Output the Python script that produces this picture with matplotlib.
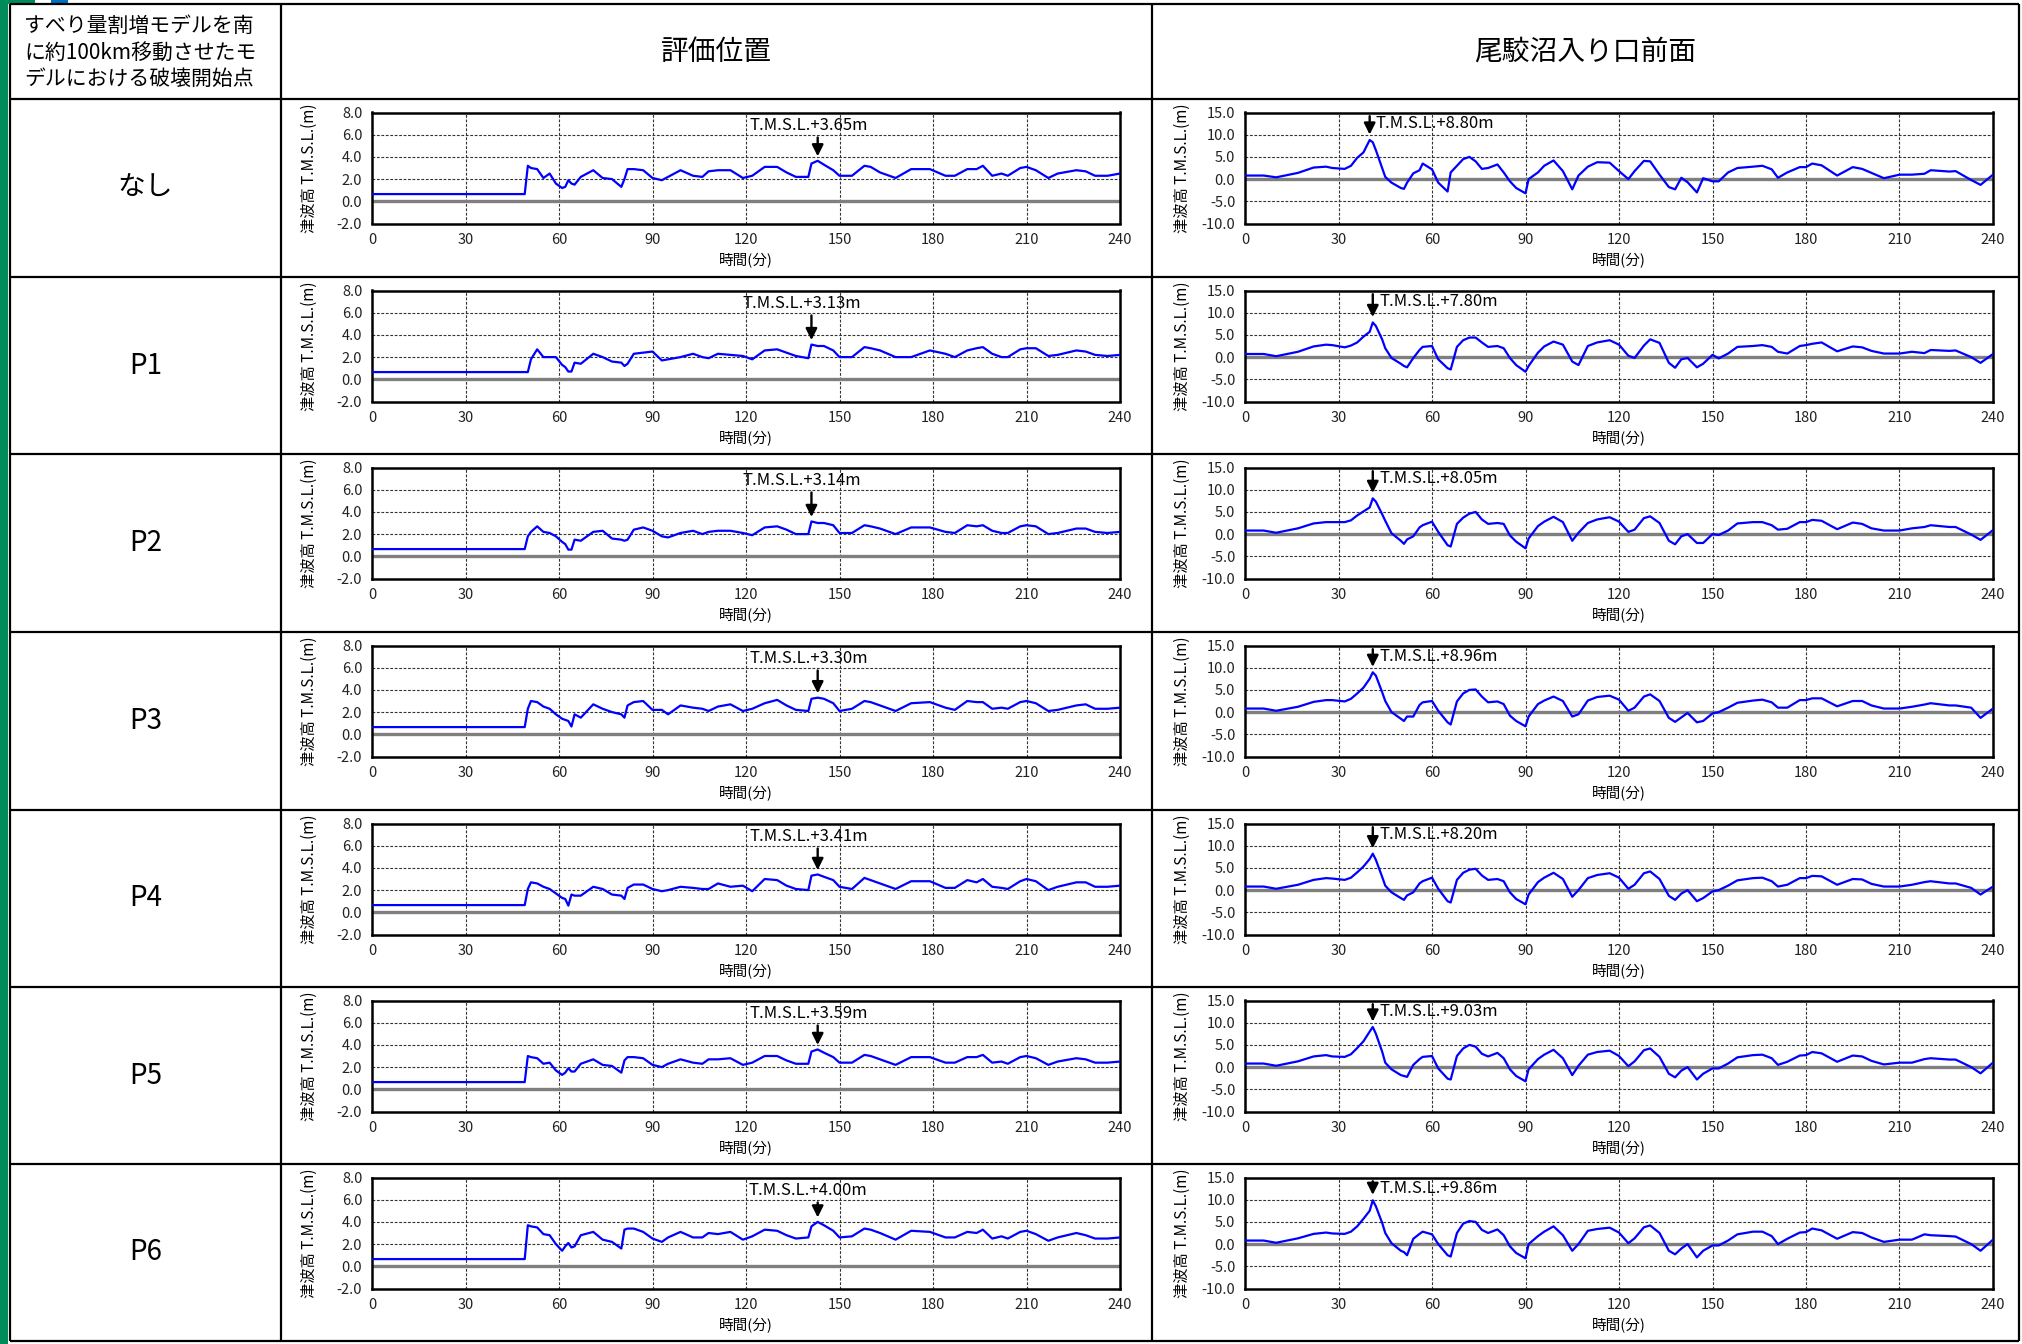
import numpy as np
import matplotlib
matplotlib.use('Agg')
from matplotlib import pyplot as plt
from matplotlib.patches import Rectangle

plt.rcParams['font.family'] = ['Noto Sans CJK JP', 'DejaVu Sans']

# 行ラベル / 列見出し
row_names = ['なし', 'P1', 'P2', 'P3', 'P4', 'P5', 'P6']
col_titles = ['評価位置', '尾駮沼入り口前面']
corner_lines = ['すべり量割増モデルを南', 'に約100km移動させたモ', 'デルにおける破壊開始点']

# 評価位置 (分, m)
t_eval = [0, 49, 50, 51, 53, 55, 57, 59, 61, 62,
          63, 64, 65, 67, 71, 74, 77, 80, 81, 82,
          84, 87, 90, 93, 95, 99, 103, 106, 108, 111,
          115, 119, 122, 126, 130, 133, 136, 140, 141, 143,
          145, 148, 150, 154, 158, 160, 163, 168, 173, 179,
          184, 187, 191, 194, 196, 199, 202, 204, 208, 210,
          213, 217, 220, 226, 229, 232, 236, 240]
eval_nashi = [0.65, 0.65, 3.2, 3.0, 2.9, 2.1, 2.5, 1.6, 1.2, 1.3,
              1.9, 1.6, 1.5, 2.2, 2.8, 2.1, 2.0, 1.3, 2.0, 2.9,
              2.9, 2.8, 2.1, 1.9, 2.2, 2.8, 2.3, 2.2, 2.7, 2.8,
              2.8, 2.1, 2.3, 3.1, 3.1, 2.6, 2.2, 2.2, 3.4, 3.65,
              3.3, 2.8, 2.3, 2.3, 3.2, 3.1, 2.6, 2.1, 2.9, 2.9,
              2.3, 2.3, 2.9, 2.9, 3.2, 2.3, 2.5, 2.3, 3.0, 3.1,
              2.8, 2.1, 2.5, 2.8, 2.7, 2.3, 2.3, 2.5]
eval_p1 = [0.65, 0.65, 0.65, 1.8, 2.7, 2.0, 2.0, 2.0, 1.3, 1.1,
           0.7, 0.7, 1.5, 1.4, 2.3, 2.0, 1.6, 1.5, 1.2, 1.4,
           2.3, 2.4, 2.5, 1.7, 1.8, 2.0, 2.3, 2.0, 1.9, 2.3,
           2.2, 2.1, 1.8, 2.6, 2.7, 2.4, 2.1, 1.9, 3.13, 3.0,
           3.0, 2.6, 2.0, 2.0, 2.9, 2.8, 2.6, 2.0, 2.0, 2.6,
           2.3, 2.0, 2.6, 2.8, 2.9, 2.3, 2.0, 2.0, 2.7, 2.8,
           2.8, 2.1, 2.2, 2.6, 2.5, 2.2, 2.1, 2.2]
eval_p2 = [0.65, 0.65, 1.8, 2.2, 2.7, 2.2, 2.1, 1.8, 1.3, 1.1,
           0.6, 0.6, 1.5, 1.4, 2.2, 2.3, 1.6, 1.5, 1.4, 1.5,
           2.4, 2.6, 2.3, 1.8, 1.7, 2.1, 2.3, 2.0, 2.2, 2.3,
           2.3, 2.1, 1.9, 2.6, 2.7, 2.4, 2.0, 2.0, 3.14, 3.0,
           3.0, 2.8, 2.1, 2.1, 2.8, 2.7, 2.5, 2.0, 2.6, 2.6,
           2.2, 2.1, 2.8, 2.7, 2.8, 2.3, 2.1, 2.1, 2.7, 2.8,
           2.7, 2.0, 2.1, 2.5, 2.5, 2.2, 2.1, 2.2]
eval_p3 = [0.65, 0.65, 2.3, 3.0, 2.9, 2.5, 2.3, 1.8, 1.4, 1.3,
           1.2, 0.7, 1.8, 1.5, 2.7, 2.3, 2.0, 1.8, 1.5, 2.6,
           2.9, 3.0, 2.2, 2.2, 1.8, 2.6, 2.4, 2.3, 2.1, 2.5,
           2.7, 2.1, 2.3, 2.8, 3.1, 2.6, 2.2, 2.1, 3.2, 3.3,
           3.2, 2.8, 2.1, 2.3, 3.0, 2.9, 2.6, 2.1, 2.8, 2.9,
           2.4, 2.2, 3.0, 2.9, 2.9, 2.3, 2.4, 2.3, 2.9, 3.0,
           2.8, 2.1, 2.2, 2.6, 2.7, 2.3, 2.3, 2.4]
eval_p4 = [0.65, 0.65, 2.1, 2.7, 2.6, 2.3, 2.1, 1.7, 1.3, 1.2,
           0.6, 1.6, 1.5, 1.5, 2.3, 2.1, 1.6, 1.5, 1.2, 2.2,
           2.5, 2.5, 2.1, 1.9, 2.0, 2.3, 2.2, 2.1, 2.1, 2.6,
           2.3, 2.4, 1.9, 3.0, 2.9, 2.4, 2.1, 2.0, 3.3, 3.41,
           3.2, 2.9, 2.3, 2.1, 3.1, 2.9, 2.6, 2.1, 2.8, 2.8,
           2.2, 2.2, 2.9, 2.7, 3.0, 2.3, 2.2, 2.1, 2.8, 3.0,
           2.8, 2.0, 2.3, 2.7, 2.7, 2.3, 2.3, 2.4]
eval_p5 = [0.65, 0.65, 3.0, 2.9, 2.8, 2.3, 2.4, 1.7, 1.3, 1.5,
           1.9, 1.6, 1.6, 2.3, 2.7, 2.2, 2.1, 1.5, 2.6, 2.9,
           2.9, 2.8, 2.2, 2.0, 2.3, 2.7, 2.4, 2.3, 2.7, 2.7,
           2.8, 2.2, 2.4, 3.0, 3.0, 2.6, 2.3, 2.3, 3.4, 3.59,
           3.3, 2.9, 2.4, 2.4, 3.1, 3.0, 2.7, 2.2, 2.9, 2.9,
           2.4, 2.4, 2.9, 2.9, 3.1, 2.4, 2.5, 2.3, 2.9, 3.0,
           2.8, 2.2, 2.5, 2.8, 2.7, 2.4, 2.4, 2.5]
eval_p6 = [0.65, 0.65, 3.7, 3.6, 3.5, 2.9, 2.8, 2.0, 1.4, 1.8,
           2.1, 1.7, 1.8, 2.8, 3.1, 2.4, 2.2, 1.6, 3.3, 3.4,
           3.4, 3.1, 2.5, 2.2, 2.6, 3.1, 2.6, 2.6, 3.0, 2.9,
           3.1, 2.4, 2.7, 3.3, 3.2, 2.8, 2.5, 2.6, 3.6, 4.0,
           3.7, 3.2, 2.6, 2.7, 3.4, 3.3, 3.0, 2.4, 3.2, 3.1,
           2.6, 2.6, 3.1, 3.0, 3.3, 2.5, 2.7, 2.5, 3.1, 3.2,
           2.9, 2.3, 2.6, 3.0, 2.8, 2.5, 2.5, 2.6]
eval_peak_t = [143, 141, 141, 143, 143, 143, 143]
eval_peak_v = [3.65, 3.13, 3.14, 3.30, 3.41, 3.59, 4.00]

# 尾駮沼入り口前面 (分, m)
t_front = [0, 6, 10, 17, 22, 26, 28, 32, 34, 36,
           38, 40, 41, 42, 44, 45, 47, 50, 51, 52,
           54, 56, 57, 60, 62, 65, 66, 68, 70, 72,
           74, 76, 78, 81, 83, 85, 87, 90, 91, 94,
           96, 99, 102, 105, 107, 110, 113, 117, 120, 123,
           125, 128, 130, 133, 136, 138, 140, 142, 145, 147,
           150, 152, 155, 158, 163, 166, 169, 171, 174, 178,
           180, 182, 185, 190, 195, 198, 201, 205, 210, 214,
           218, 220, 226, 228, 233, 236, 240]
front_nashi = [0.8, 0.8, 0.4, 1.4, 2.6, 2.8, 2.5, 2.3, 3.0, 4.8,
               6.0, 8.8, 8.3, 6.5, 2.5, 0.5, -0.8, -2.0, -2.2, -0.8,
               1.3, 2.0, 3.5, 2.2, -0.8, -2.8, 1.5, 3.0, 4.5, 5.0,
               4.0, 2.3, 2.5, 3.3, 1.5, -0.5, -2.0, -3.2, 0.0, 1.5,
               3.0, 4.2, 1.8, -2.3, 0.8, 2.8, 3.8, 3.7, 1.8, 0.0,
               1.8, 4.1, 4.0, 1.0, -1.8, -2.3, 0.3, -0.7, -3.0, 0.2,
               -0.5, -0.5, 1.5, 2.5, 2.8, 3.0, 2.2, 0.3, 1.5, 2.7,
               2.7, 3.5, 3.1, 0.8, 2.7, 2.3, 1.4, 0.2, 1.0, 1.0,
               1.2, 2.0, 1.7, 1.8, -0.2, -1.3, 1.0]
front_p1 = [0.7, 0.7, 0.2, 1.2, 2.4, 2.8, 2.7, 2.2, 2.6, 3.3,
            4.6, 5.7, 7.8, 7.0, 4.0, 2.0, -0.2, -1.5, -2.0, -2.3,
            -0.2, 1.6, 2.3, 2.5, -0.5, -2.5, -2.8, 2.3, 3.8, 4.4,
            4.4, 3.3, 2.3, 2.5, 2.0, -0.2, -1.8, -3.3, -2.0, 1.0,
            2.4, 3.5, 2.8, -1.0, -1.8, 2.5, 3.3, 3.8, 2.8, 0.3,
            -0.2, 2.6, 4.0, 3.2, -1.3, -2.4, -0.5, -0.2, -2.3, -1.5,
            0.5, -0.3, 0.8, 2.3, 2.5, 2.7, 2.3, 1.2, 0.8, 2.5,
            2.7, 3.0, 3.3, 1.3, 2.4, 2.2, 1.4, 0.8, 0.8, 1.2,
            0.9, 1.6, 1.4, 1.5, 0.0, -1.3, 0.7]
front_p2 = [0.8, 0.8, 0.3, 1.3, 2.4, 2.7, 2.7, 2.7, 3.1, 4.2,
            5.1, 6.0, 8.05, 7.3, 4.5, 3.0, 0.2, -1.5, -2.2, -1.2,
            -0.5, 1.5, 2.0, 2.8, 0.5, -2.5, -2.8, 2.3, 3.7, 4.6,
            5.0, 3.3, 2.3, 2.5, 2.3, -0.3, -1.7, -3.2, -1.0, 1.8,
            2.8, 3.9, 2.7, -1.5, 0.3, 2.5, 3.3, 3.8, 2.8, 0.5,
            1.0, 3.6, 4.0, 2.5, -1.5, -2.3, -0.5, 0.0, -2.0, -2.0,
            0.0, -0.2, 0.8, 2.4, 2.7, 2.7, 2.0, 1.0, 1.2, 2.7,
            2.7, 3.2, 3.0, 1.1, 2.6, 2.3, 1.3, 0.8, 0.8, 1.3,
            1.6, 2.0, 1.6, 1.6, -0.1, -1.3, 0.9]
front_p3 = [0.8, 0.8, 0.3, 1.2, 2.3, 2.7, 2.7, 2.4, 3.0, 4.2,
            5.5, 7.5, 8.96, 8.2, 4.5, 2.5, 0.0, -1.5, -2.0, -1.0,
            -1.0, 1.6, 2.2, 2.5, 0.3, -2.3, -2.8, 2.4, 4.2, 5.0,
            5.1, 3.5, 2.2, 2.4, 1.8, -0.8, -2.0, -3.2, -1.0, 1.8,
            2.6, 3.5, 2.5, -1.0, -0.5, 2.6, 3.4, 3.7, 2.8, 0.3,
            1.0, 3.5, 4.0, 2.5, -1.3, -2.2, -1.2, -0.2, -2.3, -2.0,
            -0.3, 0.0, 1.0, 2.1, 2.6, 2.8, 2.2, 1.0, 1.0, 2.7,
            2.7, 3.1, 3.1, 1.3, 2.5, 2.5, 1.5, 0.8, 0.8, 1.2,
            1.7, 2.0, 1.5, 1.5, 1.0, -1.3, 0.8]
front_p4 = [0.8, 0.8, 0.3, 1.2, 2.3, 2.7, 2.6, 2.3, 2.8, 4.0,
            5.3, 7.0, 8.2, 6.8, 3.0, 1.0, -0.5, -1.8, -2.2, -1.2,
            -0.5, 1.5, 2.0, 2.8, 0.3, -2.5, -2.8, 2.3, 3.9, 4.6,
            4.8, 3.3, 2.3, 2.5, 2.0, -0.5, -2.0, -3.2, -1.0, 1.8,
            2.8, 3.9, 2.5, -1.5, 0.0, 2.7, 3.4, 3.8, 2.8, 0.3,
            1.2, 3.8, 4.2, 2.5, -1.3, -2.2, -0.8, 0.0, -2.5, -1.8,
            -0.3, 0.0, 1.0, 2.2, 2.7, 2.8, 2.0, 0.8, 1.2, 2.7,
            2.7, 3.2, 3.1, 1.2, 2.5, 2.4, 1.4, 0.8, 0.8, 1.2,
            1.8, 2.0, 1.5, 1.5, 0.5, -1.0, 0.8]
front_p5 = [0.8, 0.8, 0.3, 1.3, 2.4, 2.7, 2.4, 2.3, 2.9, 4.3,
            5.8, 8.0, 9.03, 7.5, 3.5, 1.0, -0.5, -1.8, -2.0, -2.2,
            0.5, 1.8, 2.3, 2.5, -0.3, -2.6, -2.8, 2.5, 4.2, 5.0,
            4.6, 3.0, 2.4, 3.2, 2.0, -0.5, -2.0, -3.2, -0.5, 1.8,
            2.8, 3.9, 2.0, -1.8, 0.3, 2.8, 3.4, 3.7, 2.5, 0.2,
            1.3, 3.8, 4.2, 2.3, -1.5, -2.3, -0.8, 0.0, -2.8, -1.5,
            -0.3, -0.3, 0.8, 2.2, 2.7, 2.8, 2.0, 0.5, 1.2, 2.6,
            2.7, 3.4, 3.1, 1.2, 2.6, 2.4, 1.4, 0.6, 1.0, 1.0,
            1.8, 2.0, 1.7, 1.7, 0.0, -1.4, 1.0]
front_p6 = [0.8, 0.8, 0.3, 1.3, 2.3, 2.6, 2.4, 2.3, 2.8, 4.0,
            5.7, 7.5, 9.86, 8.5, 4.8, 2.5, 0.2, -1.5, -1.8, -2.5,
            1.2, 2.3, 2.8, 2.2, 0.0, -2.5, -2.8, 2.5, 4.6, 5.2,
            5.0, 3.2, 2.5, 3.3, 2.0, -0.5, -2.0, -3.2, 0.0, 1.8,
            2.8, 4.0, 2.0, -1.5, 0.0, 3.0, 3.4, 3.7, 2.6, 0.2,
            1.3, 3.8, 4.2, 2.5, -1.5, -2.3, -1.0, 0.0, -3.0, -1.5,
            -0.3, -0.3, 0.8, 2.2, 2.8, 2.8, 1.8, 0.0, 1.2, 2.6,
            2.7, 3.5, 3.1, 1.2, 2.7, 2.5, 1.5, 0.5, 1.0, 1.0,
            2.2, 2.0, 1.8, 1.7, 0.0, -1.5, 1.0]
front_peak_t = [40, 41, 41, 41, 41, 41, 41]
front_peak_v = [8.80, 7.80, 8.05, 8.96, 8.20, 9.03, 9.86]

eval_series = [eval_nashi, eval_p1, eval_p2, eval_p3, eval_p4, eval_p5, eval_p6]
front_series = [front_nashi, front_p1, front_p2, front_p3, front_p4, front_p5, front_p6]

# --- layout (pixels) ---
W, H = 2022, 1344
col_x = [10, 281, 1152, 2019]
row_y = [4, 99, 277, 454, 632, 810, 987, 1164, 1341]

fig = plt.figure(figsize=(W / 100, H / 100), dpi=100)
bg = fig.add_axes([0, 0, 1, 1])
bg.set_xlim(0, W)
bg.set_ylim(H, 0)
bg.axis('off')

# slide decoration
bg.add_patch(Rectangle((0, 0), 8, H, color='#008C5A', lw=0))
bg.add_patch(Rectangle((0, 0), 35, 4, color='#008C5A', lw=0))
bg.add_patch(Rectangle((51, 0), 17, 4, color='#0070C0', lw=0))

# table grid
for y in row_y:
    bg.plot([col_x[0], col_x[-1]], [y, y], color='black', lw=1.6, solid_capstyle='butt')
for x in col_x:
    bg.plot([x, x], [row_y[0], row_y[-1]], color='black', lw=1.6, solid_capstyle='butt')

for i, line in enumerate(corner_lines):
    bg.text(24, 26 + i * 26.5, line, fontsize=15, ha='left', va='center')
for j, title in enumerate(col_titles):
    bg.text((col_x[j + 1] + col_x[j + 2]) / 2, 52, title, fontsize=20, ha='center', va='center')


def draw_panel(left, right, top, t, v, ylim, yticks, grid_y, pk_t, pk_v, is_front):
    h = 111
    ax = fig.add_axes([left / W, 1 - (top + h) / H, (right - left) / W, h / H])
    for x in range(30, 240, 30):
        ax.axvline(x, color='#333333', lw=0.8, ls=(0, (2.5, 1.5)), zorder=1)
    for y in grid_y:
        ax.axhline(y, color='#333333', lw=0.8, ls=(0, (2.5, 1.5)), zorder=1)
    ax.axhline(0, color='#7f7f7f', lw=2.4, zorder=1)
    ax.plot(t, v, color='#0000FF', lw=1.6, zorder=3)
    ax.set_xlim(0, 240)
    ax.set_ylim(*ylim)
    ax.set_xticks(range(0, 241, 30))
    ax.set_yticks(yticks)
    ax.set_yticklabels(['%.1f' % y for y in yticks])
    ax.tick_params(length=0, labelsize=10.5, pad=7, colors='#222222')
    for s in ax.spines.values():
        s.set_linewidth(1.8)
    label = 'T.M.S.L.+%.2fm' % pk_v
    if is_front:
        ax.annotate('', xy=(pk_t, pk_v + 0.6), xytext=(pk_t, 14.8),
                    arrowprops=dict(arrowstyle='-|>', color='black', lw=1.7, mutation_scale=17))
        ax.text(pk_t + 2.0, 12.5, label, fontsize=12, ha='left', va='center')
    else:
        ax.annotate('', xy=(pk_t, pk_v + 0.15), xytext=(pk_t, 6.0),
                    arrowprops=dict(arrowstyle='-|>', color='black', lw=1.7, mutation_scale=17))
        ax.text(pk_t - 3, 6.85, label, fontsize=12, ha='center', va='center')
    bg.text((left + right) / 2, top + h + 37, '時間(分)', fontsize=10.5, ha='center', va='center')
    bg.text(left - 63, top + h / 2, '津波高 T.M.S.L.(m)', fontsize=11, rotation=90,
            ha='center', va='center')
    return ax


for i, name in enumerate(row_names):
    r0, r1 = row_y[i + 1], row_y[i + 2]
    bg.text((col_x[0] + col_x[1]) / 2, (r0 + r1) / 2, name, fontsize=20, ha='center', va='center')
    top = r0 + 13.5
    draw_panel(372, 1120, top, t_eval, eval_series[i], (-2, 8), [-2, 0, 2, 4, 6, 8], [2, 4, 6],
               eval_peak_t[i], eval_peak_v[i], False)
    draw_panel(1245, 1993, top, t_front, front_series[i], (-10, 15), [-10, -5, 0, 5, 10, 15], [-5, 5, 10],
               front_peak_t[i], front_peak_v[i], True)

fig.savefig('out.png', dpi=100)
